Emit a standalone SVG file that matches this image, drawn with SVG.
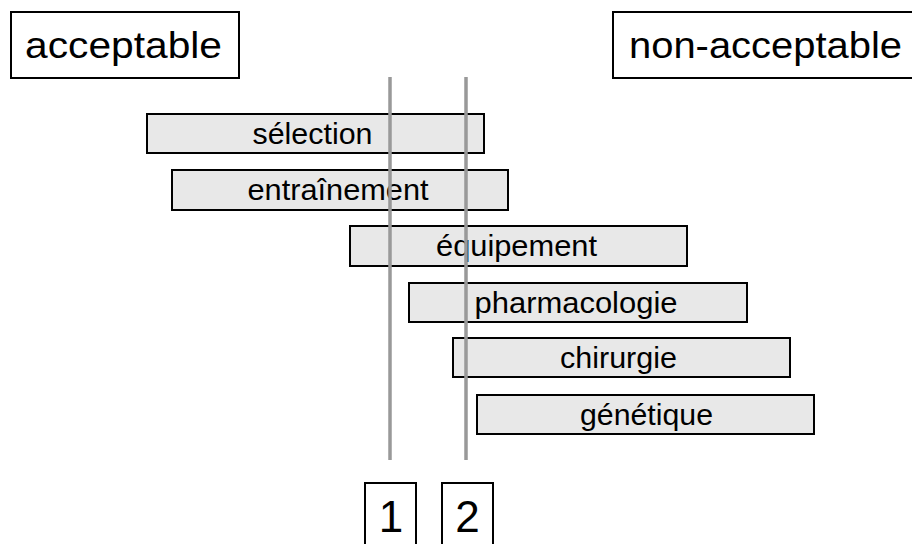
<svg xmlns="http://www.w3.org/2000/svg" width="912" height="544" viewBox="0 0 912 544">
<style>
.box{fill:#ffffff;stroke:#000;stroke-width:2}
.bar{fill:#e8e8e8;stroke:#000;stroke-width:2}
.t{font-family:"Liberation Sans",Arial,sans-serif;fill:#000}
.h{font-size:36px}
.b{font-size:29px;text-anchor:middle}
.n{font-size:44px;text-anchor:middle}
.ln{stroke:#999999;stroke-width:3.5;fill:none}
</style>
<rect width="912" height="544" fill="#ffffff"/>
<g id="acceptable">
<rect class="box" x="11" y="12" width="228" height="66"/>
<text class="t h" x="25" y="58" textLength="197" lengthAdjust="spacingAndGlyphs">acceptable</text>
</g>
<g id="non-acceptable">
<rect class="box" x="613" y="12" width="310" height="66"/>
<text class="t h" x="629" y="58" textLength="273" lengthAdjust="spacingAndGlyphs">non-acceptable</text>
</g>
<g id="selection">
<rect class="bar" x="147" y="114" width="337" height="39"/>
<text class="t b" x="312.5" y="143.5" textLength="120" lengthAdjust="spacingAndGlyphs">sélection</text>
</g>
<g id="entrainement">
<rect class="bar" x="172" y="170" width="336" height="40"/>
<text class="t b" x="338" y="200" textLength="181" lengthAdjust="spacingAndGlyphs">entraînement</text>
</g>
<g id="equipement">
<rect class="bar" x="350" y="226" width="337" height="40"/>
<text class="t b" x="516.5" y="255.5" textLength="161" lengthAdjust="spacingAndGlyphs">équipement</text>
</g>
<g id="pharmacologie">
<rect class="bar" x="409" y="283" width="338" height="39"/>
<text class="t b" x="576" y="312.5" textLength="203" lengthAdjust="spacingAndGlyphs">pharmacologie</text>
</g>
<g id="chirurgie">
<rect class="bar" x="453" y="338" width="337" height="39"/>
<text class="t b" x="618.5" y="367.5" textLength="117" lengthAdjust="spacingAndGlyphs">chirurgie</text>
</g>
<g id="genetique">
<rect class="bar" x="477" y="395" width="337" height="39"/>
<text class="t b" x="646.5" y="424.5" textLength="133" lengthAdjust="spacingAndGlyphs">génétique</text>
</g>
<g id="connectors">
<line class="ln" x1="390" y1="77" x2="390" y2="460"/>
<line class="ln" x1="466" y1="77" x2="466" y2="460"/>
</g>
<g id="box1">
<rect class="box" x="365" y="483" width="51" height="80"/>
<text class="t n" x="391" y="532">1</text>
</g>
<g id="box2">
<rect class="box" x="442" y="483" width="51" height="80"/>
<text class="t n" x="467.5" y="532">2</text>
</g>
</svg>
